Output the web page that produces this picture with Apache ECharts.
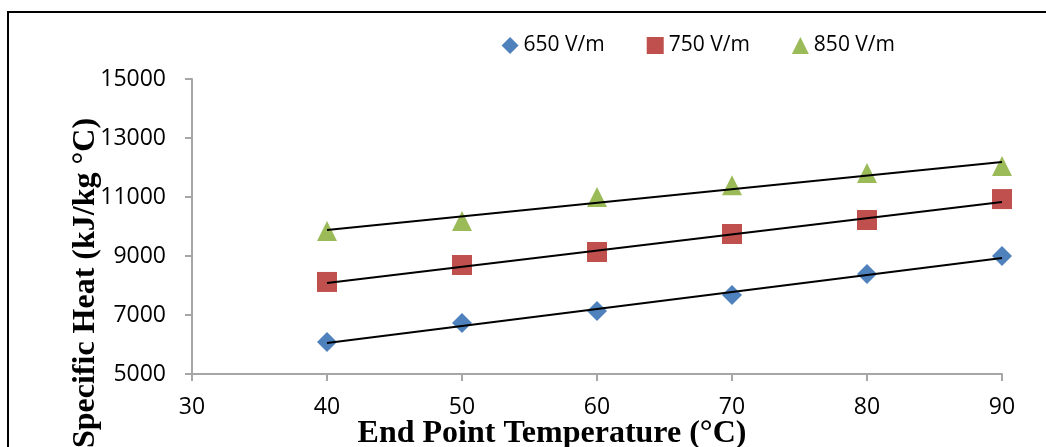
<!DOCTYPE html>
<html style="height:100%">
<head>
    <meta charset="UTF-8">
    <title>Specific Heat</title>
    <script src="https://cdn.jsdelivr.net/npm/echarts@6/dist/echarts.min.js"></script>
</head>
<body style="height:100%;margin:0;background:#fff">
    <div id="main" style="width:1046px;height:447px"></div>
    <script>
        // end point temperatures (°C)
        var temps = [40, 50, 60, 70, 80, 90];
        var names = ['650 V/m', '750 V/m', '850 V/m'];
        // specific heat values (kJ/kg °C)
        var heat650 = [6085, 6730, 7135, 7680, 8390, 9000];
        var heat750 = [8120, 8695, 9135, 9745, 10220, 10930];
        var heat850 = [9850, 10190, 11000, 11400, 11810, 12050];
        // linear trendline end values at 40 and 90 °C
        var trendX = [40, 90];
        var trend650 = [6050, 8930];
        var trend750 = [8085, 10830];
        var trend850 = [9880, 12190];

        var colors = ['#4F81BD', '#C0504D', '#9BBB59'];
        var symbols = ['diamond', 'rect', 'triangle'];

        function pairs(xs, ys) {
            return xs.map(function (x, i) { return [x, ys[i]]; });
        }

        var chart = echarts.init(document.getElementById('main'), null, { renderer: 'canvas' });

        var pointSets = [heat650, heat750, heat850];
        var trendSets = [trend650, trend750, trend850];
        var series = [];
        for (var i = 0; i < 3; i++) {
            series.push({
                name: names[i],
                type: 'scatter',
                symbol: symbols[i],
                symbolSize: 20,
                itemStyle: { color: colors[i], opacity: 1 },
                data: pairs(temps, pointSets[i]),
                z: 2
            });
        }
        for (var j = 0; j < 3; j++) {
            series.push({
                name: 'trend ' + names[j],
                type: 'line',
                showSymbol: false,
                symbol: 'none',
                silent: true,
                lineStyle: { color: '#000', width: 2 },
                data: pairs(trendX, trendSets[j]),
                z: 3
            });
        }

        var tickFont = { fontFamily: 'Open Sans', fontSize: 23, color: '#000' };

        var option = {
            animation: false,
            backgroundColor: '#fff',
            grid: { left: 192, right: 44, top: 79, bottom: 73 },
            legend: {
                data: names,
                right: 146,
                top: 30,
                itemWidth: 17,
                itemHeight: 17,
                itemGap: 42,
                textStyle: { fontFamily: 'Open Sans', fontSize: 21, color: '#000' }
            },
            xAxis: {
                type: 'value',
                min: 30,
                max: 90,
                interval: 10,
                splitLine: { show: false },
                axisLine: { show: true, lineStyle: { color: '#a6a6a6', width: 2 } },
                axisTick: { show: true, inside: false, length: 7, lineStyle: { color: '#a6a6a6', width: 2 } },
                axisLabel: Object.assign({ margin: 22 }, tickFont)
            },
            yAxis: {
                type: 'value',
                min: 5000,
                max: 15000,
                interval: 2000,
                splitLine: { show: false },
                axisLine: { show: true, lineStyle: { color: '#a6a6a6', width: 2 } },
                axisTick: { show: true, inside: false, length: 7, lineStyle: { color: '#a6a6a6', width: 2 } },
                axisLabel: Object.assign({
                    margin: 26,
                    formatter: function (v) { return String(v); }
                }, tickFont)
            },
            graphic: [
                {
                    type: 'rect',
                    shape: { x: 8, y: 12, width: 1100, height: 500 },
                    style: { fill: null, stroke: '#000', lineWidth: 2 },
                    silent: true
                },
                {
                    type: 'text',
                    x: 552,
                    y: 434,
                    style: {
                        text: 'End Point Temperature (°C)',
                        font: 'bold 32px "Liberation Serif"',
                        fill: '#000',
                        textAlign: 'center',
                        textVerticalAlign: 'middle'
                    }
                },
                {
                    type: 'text',
                    x: 86,
                    y: 283,
                    rotation: Math.PI / 2,
                    style: {
                        text: 'Specific Heat (kJ/kg °C)',
                        font: 'bold 32px "Liberation Serif"',
                        fill: '#000',
                        textAlign: 'center',
                        textVerticalAlign: 'middle'
                    }
                }
            ],
            series: series
        };
        chart.setOption(option);
    </script>
</body>
</html>
